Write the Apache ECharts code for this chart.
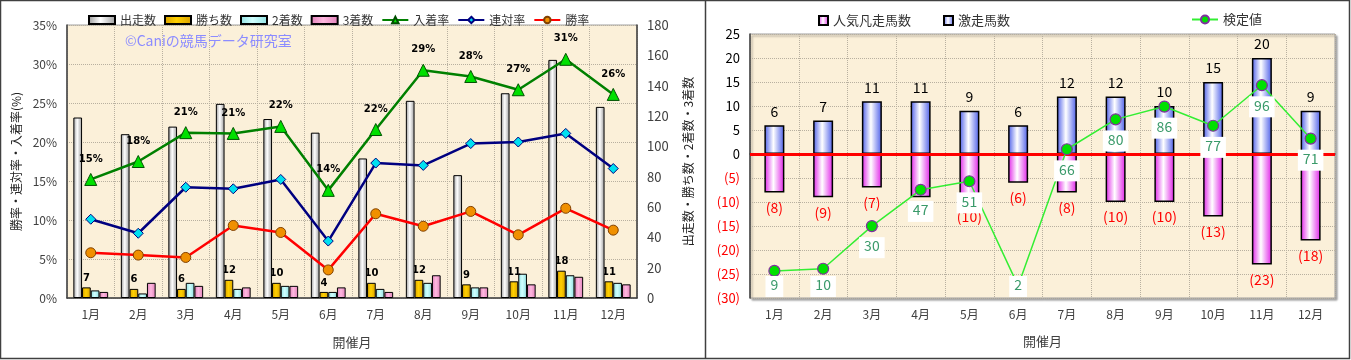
<!DOCTYPE html>
<html><head><meta charset="utf-8">
<script src="https://cdn.jsdelivr.net/npm/echarts@6/dist/echarts.min.js"></script>
<style>html,body{margin:0;padding:0;background:#fff}#c{width:1351px;height:360px}</style>
</head><body><div id="c"></div>
<script>
// ---------- data ----------
const months = ['1月','2月','3月','4月','5月','6月','7月','8月','9月','10月','11月','12月'];
// left chart (counts, right axis)
const starters = [119,108,113,128,118,109,92,130,81,135,157,126];
const wins     = [7,6,6,12,10,4,10,12,9,11,18,11];
const seconds  = [5,3,10,6,8,4,6,10,7,16,15,10];
const thirds   = [4,10,8,7,8,7,4,15,7,9,14,9];
// left chart (rates %, left axis)
const placeRate = [15.2,17.5,21.2,21.1,22.0,13.8,21.6,29.2,28.4,26.7,30.6,26.1];
const quinRate  = [10.1,8.3,14.2,14.0,15.2,7.3,17.3,17.0,19.8,20.0,21.1,16.6];
const winRate   = [5.8,5.5,5.2,9.3,8.4,3.6,10.8,9.2,11.1,8.1,11.5,8.7];
const placeLabels = ['15%','18%','21%','21%','22%','14%','22%','29%','28%','27%','31%','26%'];
// right chart
const gekisou   = [6,7,11,11,9,6,12,12,10,15,20,9];
const ninkiBonsou = [8,9,7,9,10,6,8,10,10,13,23,18];
const kenteichi = [9,10,30,47,51,2,66,80,86,77,96,71];
const leftTicksPct = {min:0,max:35,interval:5};
const rightTicksCnt = {min:0,max:180,interval:20};
const rTicks = {min:-30,max:25,interval:5};

const FONT = '"Noto Sans CJK JP", "Noto Sans", sans-serif';
const hgrad = (edge, mid) => new echarts.graphic.LinearGradient(0,0,1,0,[
  {offset:0,color:edge},{offset:0.45,color:mid},{offset:1,color:edge}]);
const bg = '#fbf0d9';
const gridLine = {show:true,lineStyle:{color:'#b8b0a0',type:'dotted',width:1}};

const chart = echarts.init(document.getElementById('c'), null, {renderer:'canvas'});
chart.setOption({
  animation:false,
  textStyle:{fontFamily:FONT},
  graphic:[
    {type:'rect',shape:{x:0.5,y:0.5,width:1349,height:358},style:{fill:'none',stroke:'#404040',lineWidth:1.5},z:-10},
    {type:'line',shape:{x1:705.5,y1:0,x2:705.5,y2:359},style:{stroke:'#404040',lineWidth:1.5},z:-10},
    {type:'text',left:125,top:34,style:{text:'©Caniの競馬データ研究室',fill:'#8c8cff',font:'14px '+FONT},z:5}
  ],
  legend:[
    {left:83,top:9,itemWidth:26,itemHeight:8,itemGap:8,textStyle:{fontSize:12,color:'#333',fontFamily:FONT},
     data:[{name:'出走数',icon:'rect'},{name:'勝ち数',icon:'rect'},{name:'2着数',icon:'rect'},{name:'3着数',icon:'rect'},'入着率','連対率','勝率']},
    {left:813,top:9,itemWidth:9,itemHeight:9,itemGap:32,textStyle:{fontSize:13,color:'#333',fontFamily:FONT},
     data:[{name:'人気凡走馬数',icon:'rect'},{name:'激走馬数',icon:'rect'}]},
    {left:1186,top:8,itemWidth:26,itemHeight:10,textStyle:{fontSize:13,color:'#333',fontFamily:FONT},data:['検定値']}
  ],
  grid:[
    {left:67,right:714,top:25,bottom:62,show:true,backgroundColor:bg,borderColor:'#a0a0a0',borderWidth:1},
    {left:750,right:16,top:34,bottom:62,show:true,backgroundColor:bg,borderColor:'#a0a0a0',borderWidth:1,
     shadowColor:'rgba(0,0,0,0.35)',shadowOffsetX:2,shadowOffsetY:2,shadowBlur:2}
  ],
  xAxis:[
    {type:'category',gridIndex:0,data:months,axisLine:{lineStyle:{color:'#404040',width:1.5}},axisTick:{show:false},
     axisLabel:{color:'#404040',fontSize:12,margin:10},splitLine:gridLine,
     name:'開催月',nameLocation:'middle',nameGap:38,nameTextStyle:{color:'#404040',fontSize:13}},
    {type:'category',gridIndex:1,data:months,axisLine:{lineStyle:{color:'#404040',width:1.5}},axisTick:{show:false},
     axisLabel:{color:'#404040',fontSize:12,margin:10},splitLine:gridLine,
     name:'開催月',nameLocation:'middle',nameGap:37,nameTextStyle:{color:'#404040',fontSize:13}}
  ],
  yAxis:[
    {type:'value',gridIndex:0,min:leftTicksPct.min,max:leftTicksPct.max,interval:leftTicksPct.interval,
     axisLine:{show:true,lineStyle:{color:'#404040',width:1.5}},axisTick:{show:false},
     axisLabel:{formatter:'{value}%',color:'#404040',fontSize:12,margin:10},splitLine:gridLine,
     name:'勝率・連対率・入着率(%)',nameLocation:'middle',nameGap:45,nameRotate:90,nameTextStyle:{color:'#222',fontSize:12}},
    {type:'value',gridIndex:0,position:'right',min:rightTicksCnt.min,max:rightTicksCnt.max,interval:rightTicksCnt.interval,
     axisLine:{show:true,lineStyle:{color:'#404040',width:1.5}},axisTick:{show:false},
     axisLabel:{color:'#404040',fontSize:13,margin:10},splitLine:{show:false},
     name:'出走数・勝ち数・2着数・3着数',nameLocation:'middle',nameGap:45,nameRotate:90,nameTextStyle:{color:'#222',fontSize:12}},
    {type:'value',gridIndex:1,min:rTicks.min,max:rTicks.max,interval:rTicks.interval,
     axisLine:{show:true,lineStyle:{color:'#404040',width:1.5}},axisTick:{show:false},
     axisLabel:{fontSize:13,margin:10,formatter:v=>v<0?'('+(-v)+')':String(v),color:v=>v<0?'#ff0000':'#000'},
     splitLine:gridLine},
    {type:'value',gridIndex:1,min:-3.7,max:120,show:false,splitLine:{show:false}}
  ],
  series:[
    {name:'出走数',type:'bar',xAxisIndex:0,yAxisIndex:1,data:starters,barWidth:8.7,barGap:0,z:3,
     itemStyle:{color:hgrad('#9a9a9a','#ffffff'),borderColor:'#000',borderWidth:1}},
    {name:'勝ち数',type:'bar',xAxisIndex:0,yAxisIndex:1,data:wins,barWidth:8.7,barGap:0,z:2,
     itemStyle:{color:hgrad('#d8a000','#ffd000'),borderColor:'#000',borderWidth:1},
     label:{show:true,position:'top',distance:4,fontSize:10,fontWeight:'bold',color:'#000',fontFamily:'"DejaVu Sans", sans-serif'}},
    {name:'2着数',type:'bar',xAxisIndex:0,yAxisIndex:1,data:seconds,barWidth:8.7,barGap:0,z:2,
     itemStyle:{color:hgrad('#90e0e0','#d0ffff'),borderColor:'#000',borderWidth:1}},
    {name:'3着数',type:'bar',xAxisIndex:0,yAxisIndex:1,data:thirds,barWidth:8.7,barGap:0,z:2,
     itemStyle:{color:hgrad('#e080b8','#ffb8e0'),borderColor:'#000',borderWidth:1}},
    {name:'入着率',type:'line',xAxisIndex:0,yAxisIndex:0,data:placeRate,z:5,
     lineStyle:{color:'#008000',width:2.5},symbol:'triangle',symbolSize:12,
     itemStyle:{color:'#00e000',borderColor:'#005000',borderWidth:1},
     label:{show:true,position:'top',distance:9,fontSize:10,fontWeight:'bold',color:'#000',fontFamily:'"DejaVu Sans", sans-serif',
       formatter:p=>placeLabels[p.dataIndex]}},
    {name:'連対率',type:'line',xAxisIndex:0,yAxisIndex:0,data:quinRate,z:5,
     lineStyle:{color:'#000080',width:2.5},symbol:'diamond',symbolSize:10,
     itemStyle:{color:'#00e0f0',borderColor:'#000080',borderWidth:1}},
    {name:'勝率',type:'line',xAxisIndex:0,yAxisIndex:0,data:winRate,z:5,
     lineStyle:{color:'#ff0000',width:2.5},symbol:'circle',symbolSize:10,
     itemStyle:{color:'#f09000',borderColor:'#804000',borderWidth:1}},
    {name:'激走馬数',type:'bar',xAxisIndex:1,yAxisIndex:2,data:gekisou,barWidth:20,barGap:'-100%',z:2,
     itemStyle:{color:hgrad('#4a5ce8','#ffffff'),borderColor:'#000',borderWidth:1.5},
     label:{show:true,position:'top',distance:7,fontSize:14,color:'#000'},
     markLine:{silent:true,symbol:'none',label:{show:false},lineStyle:{color:'#ff0000',width:3,type:'solid'},data:[{yAxis:0}],z:4}},
    {name:'人気凡走馬数',type:'bar',xAxisIndex:1,yAxisIndex:2,data:ninkiBonsou.map(v=>-v),barWidth:20,barGap:'-100%',z:2,
     itemStyle:{color:hgrad('#e020e8','#ffffff'),borderColor:'#000',borderWidth:1.5},
     label:{show:true,position:'bottom',distance:8,fontSize:14,color:'#ff0000',formatter:p=>'('+(-p.value)+')'}},
    {name:'検定値',type:'line',xAxisIndex:1,yAxisIndex:3,data:kenteichi,z:6,
     lineStyle:{color:'#33ee33',width:1.5},symbol:'circle',symbolSize:11,
     itemStyle:{color:'#00e000',borderColor:'#8030a0',borderWidth:1.2},
     label:{show:true,position:'bottom',distance:5,fontSize:14,color:'#3a9a6a',backgroundColor:'#ffffff',padding:[2,5,5,5]},
     labelLayout:p=>{const r=p.labelRect; const lim=297; return (r.y+r.height>lim)?{dy:lim-(r.y+r.height)}:{};}}
  ]
});
</script></body></html>
